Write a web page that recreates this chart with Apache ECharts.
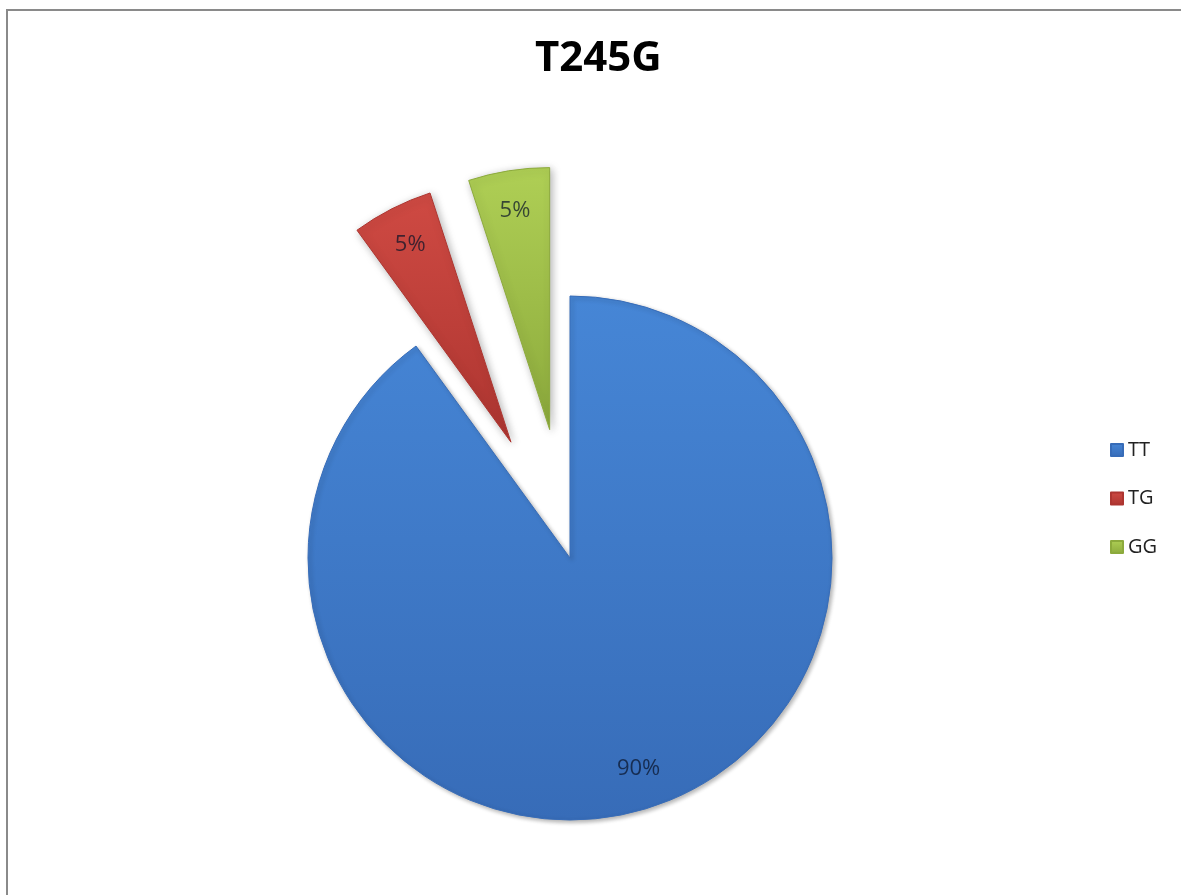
<!DOCTYPE html>
<html>
<head>
<meta charset="utf-8">
<title>T245G</title>
<script src="https://cdn.jsdelivr.net/npm/echarts@6/dist/echarts.min.js"></script>
<style>
  html, body { margin: 0; padding: 0; background: #fff; overflow: hidden; }
  #chart { position: absolute; left: 0; top: 0; width: 1181px; height: 895px; }
  #frame {
    position: absolute; left: 6px; top: 9px; width: 1300px; height: 1000px;
    border: 2px solid #8a8a8a; pointer-events: none;
  }
</style>
</head>
<body>
<div id="chart"></div>
<div id="frame"></div>
<script>
// genotype shares (%)
const genotypes = ['TT', 'TG', 'GG'];
const shares = [90, 5, 5];
const exploded = [false, true, true];

// colour pairs (top, bottom) for a light Excel-like shading
const colors = [
  ['#4686d6', '#376cb8'],
  ['#cf4a43', '#ad3530'],
  ['#afcf55', '#8caa3c']
];

const fontFamily = '"Open Sans", "Noto Sans", sans-serif';

const grad = (c) => new echarts.graphic.LinearGradient(0, 0, 0, 1, [
  { offset: 0, color: c[0] },
  { offset: 1, color: c[1] }
]);

const pieData = genotypes.map((name, i) => ({
  name: name,
  value: shares[i],
  selected: exploded[i],
  itemStyle: {
    color: grad(colors[i]),
    borderColor: colors[i][1],
    borderWidth: 1,
    shadowBlur: exploded[i] ? 8 : 4,
    shadowColor: 'rgba(0,0,0,0.3)',
    shadowOffsetX: 2,
    shadowOffsetY: 2
  }
}));

// transparent copy, only used to put the labels near the rim
const labelData = genotypes.map((name, i) => ({
  name: name,
  value: shares[i],
  selected: exploded[i]
}));

const chart = echarts.init(document.getElementById('chart'));

const option = {
  animation: false,
  title: {
    text: 'T245G',
    left: 530,
    top: 33,
    textStyle: { fontFamily: fontFamily, fontSize: 42, fontWeight: 'bold', color: '#000' }
  },
  legend: {
    orient: 'vertical',
    left: 1105,
    top: 433,
    itemWidth: 12,
    itemHeight: 12,
    itemGap: 24.5,
    icon: 'rect',
    data: genotypes,
    textStyle: { fontFamily: fontFamily, fontSize: 20, lineHeight: 24, color: '#222' }
  },
  series: [
    {
      name: 'T245G',
      type: 'pie',
      center: [570, 558],
      radius: [0, 262],
      startAngle: 90,
      clockwise: true,
      selectedMode: 'multiple',
      selectedOffset: 130,
      label: { show: false },
      labelLine: { show: false },
      emphasis: { disabled: true },
      data: pieData
    },
    {
      name: 'labels',
      type: 'pie',
      silent: true,
      center: [570, 558],
      radius: [176, 262],
      startAngle: 90,
      clockwise: true,
      selectedMode: 'multiple',
      selectedOffset: 130,
      itemStyle: { color: 'rgba(0,0,0,0)' },
      labelLine: { show: false },
      label: {
        show: true,
        position: 'inside',
        formatter: '{d}%',
        fontFamily: fontFamily,
        fontSize: 22,
        color: 'rgba(10,20,40,0.72)'
      },
      emphasis: { disabled: true },
      data: labelData
    }
  ]
};

chart.setOption(option);
</script>
</body>
</html>
